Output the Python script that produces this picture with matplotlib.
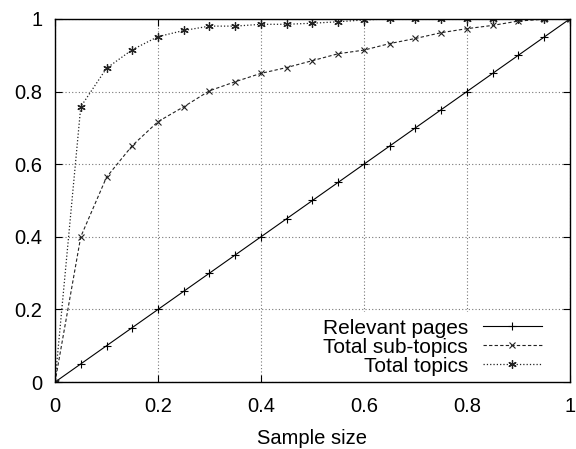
import numpy as np
import matplotlib.pyplot as plt
from matplotlib.patches import Rectangle

plt.rcParams['font.family'] = ['Liberation Sans', 'DejaVu Sans']

# sample size fractions
sample = [0.0, 0.05, 0.1, 0.15, 0.2, 0.25, 0.3, 0.35, 0.4, 0.45, 0.5,
          0.55, 0.6, 0.65, 0.7, 0.75, 0.8, 0.85, 0.9, 0.95, 1.0]
relevant = [0.0, 0.05, 0.1, 0.15, 0.2, 0.25, 0.3, 0.35, 0.4, 0.45, 0.5,
            0.55, 0.6, 0.65, 0.7, 0.75, 0.8, 0.85, 0.9, 0.95, 1.0]
subtopics = [0.0, 0.40, 0.564, 0.651, 0.717, 0.758, 0.802, 0.827, 0.850, 0.866, 0.885,
             0.904, 0.914, 0.932, 0.946, 0.962, 0.973, 0.982, 0.994, 0.999, 1.0]
topics = [0.0, 0.758, 0.864, 0.915, 0.951, 0.968, 0.980, 0.980, 0.985, 0.985, 0.988,
          0.992, 0.997, 1.0, 1.0, 1.0, 1.0, 1.0, 1.0, 1.0, 1.0]

ticks = [0, 0.2, 0.4, 0.6, 0.8, 1]
ticklabels = ['0', '0.2', '0.4', '0.6', '0.8', '1']

fig = plt.figure(figsize=(5.76, 4.49), dpi=100)
ax = fig.add_axes([0.0955, 0.149, 0.894, 0.809])

ax.plot(sample, relevant, '-', color='black', lw=0.8, marker='+', ms=6, mew=0.8,
        label='Relevant pages')
ax.plot(sample, subtopics, '--', color='#222222', lw=0.8, marker='x', ms=5, mew=0.8,
        dashes=(3, 2), label='Total sub-topics')
ax.plot(sample, topics, ':', color='#222222', lw=0.9, marker=(6, 2, 0), ms=6, mew=0.9,
        label='Total topics')

ax.set_xlim(0, 1)
ax.set_ylim(0, 1)
ax.set_xticks(ticks)
ax.set_xticklabels(ticklabels)
ax.set_yticks(ticks)
ax.set_yticklabels(ticklabels)
ax.tick_params(direction='in', top=True, right=True, length=5, labelsize=14.5)
ax.tick_params(axis='x', pad=11)
ax.tick_params(axis='y', pad=9)
ax.grid(True, color='#777777', linestyle=(0, (1, 2)), lw=0.8)
for s in ax.spines.values():
    s.set_linewidth(1.0)

ax.set_xlabel('Sample size', fontsize=14.5, labelpad=9)

# opaque key area (gnuplot style): hides grid behind the legend
ax.add_patch(Rectangle((0.495, 0.0), 0.505, 0.193, transform=ax.transAxes,
                       facecolor='white', edgecolor='none', zorder=1.8))

ax.legend(loc='lower right', bbox_to_anchor=(0.946, 0.018), frameon=False,
          markerfirst=False, fontsize=15, borderpad=0, borderaxespad=0,
          handlelength=2.85, labelspacing=0.0, handletextpad=0.7)

fig.savefig('out.png', dpi=100)
